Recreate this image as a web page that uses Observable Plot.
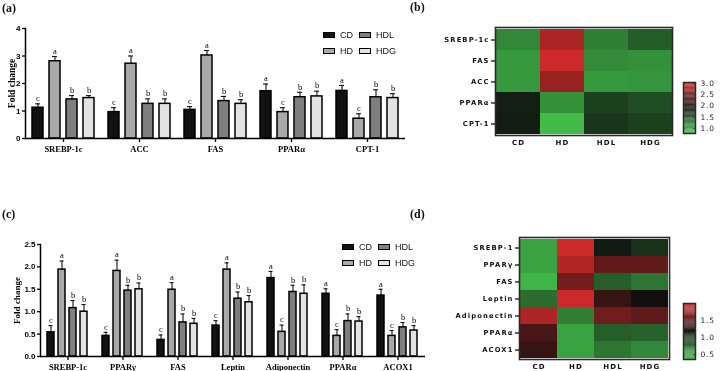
<!DOCTYPE html>
<html><head><meta charset="utf-8">
<script src="https://cdn.jsdelivr.net/npm/d3@7"></script>
<script src="https://cdn.jsdelivr.net/npm/@observablehq/plot@0.6"></script>
<style>
body{margin:0;background:#fff;}
#root{position:relative;width:720px;height:371px;overflow:hidden;background:#fff;font-family:"Liberation Sans",Arial,sans-serif;}
#root svg{position:absolute;will-change:transform;}
#root svg.bars{filter:grayscale(1);}
.tag{position:absolute;font:bold 12px "Liberation Serif",serif;line-height:12px;color:#111;will-change:transform;}
.leg{position:absolute;font:9px "Liberation Sans",Arial,sans-serif;line-height:10px;display:flex;align-items:center;color:#111;white-space:nowrap;will-change:transform;filter:grayscale(1);}
.sw{display:inline-block;width:10px;height:4px;border:1.6px solid #000;margin-right:5px;}
.heat text{letter-spacing:1.1px;}
.ramp text{letter-spacing:0.8px;}
</style></head><body><div id="root"></div>
<script>
// ---------- data ----------
const groups = ["CD", "HD", "HDL", "HDG"];
const groupFill = ["#111111", "#a9a9a9", "#7f7f7f", "#e3e3e3"];

// Panel (a) – bar chart
const genesA = ["SREBP-1c", "ACC", "FAS", "PPARα", "CPT-1"];
const meanA = [[1.12, 2.81, 1.42, 1.47], [0.96, 2.72, 1.26, 1.26], [1.04, 3.02, 1.36, 1.26], [1.72, 0.96, 1.50, 1.53], [1.73, 0.72, 1.50, 1.47]];
const errA  = [[0.14, 0.17, 0.14, 0.09], [0.16, 0.28, 0.18, 0.18], [0.12, 0.18, 0.17, 0.15], [0.26, 0.16, 0.18, 0.19], [0.20, 0.18, 0.27, 0.16]];
const sigA  = [["c","a","b","b"], ["c","a","b","b"], ["c","a","b","b"], ["a","c","b","b"], ["a","c","b","b"]];
const yTicksA = [0, 1, 2, 3, 4];

// Panel (b) – heatmap
const genesB = ["SREBP-1c", "FAS", "ACC", "PPARα", "CPT-1"];
const heatB = [[1.11, 2.80, 1.17, 1.39], [1.00, 3.00, 1.09, 1.06], [1.00, 2.70, 1.00, 1.02], [1.79, 1.05, 1.58, 1.49], [1.81, 0.78, 1.65, 1.58]];
const rampB = [0.77, 1.90, 3.05];
const rampTicksB = [1.0, 1.5, 2.0, 2.5, 3.0];

// Panel (c) – bar chart
const genesC = ["SREBP-1c", "PPARγ", "FAS", "Leptin", "Adiponectin", "PPARα", "ACOX1"];
const meanC = [[0.54, 1.94, 1.08, 1.00], [0.46, 1.91, 1.47, 1.50], [0.37, 1.49, 0.76, 0.73], [0.69, 1.94, 1.29, 1.21], [1.75, 0.55, 1.44, 1.40], [1.40, 0.46, 0.79, 0.78], [1.36, 0.46, 0.65, 0.58]];
const errC  = [[0.15, 0.19, 0.17, 0.16], [0.08, 0.24, 0.12, 0.14], [0.11, 0.16, 0.19, 0.12], [0.11, 0.15, 0.15, 0.15], [0.15, 0.15, 0.15, 0.20], [0.11, 0.14, 0.16, 0.11], [0.14, 0.12, 0.11, 0.11]];
const sigC  = [["c","a","b","b"], ["c","a","b","b"], ["c","a","b","b"], ["c","a","b","b"], ["a","c","b","b"], ["a","c","b","b"], ["a","c","b","b"]];
const yTicksC = [0, 0.5, 1.0, 1.5, 2.0, 2.5];

// Panel (d) – heatmap
const genesD = ["SREBP-1", "PPARγ", "FAS", "Leptin", "Adiponectin", "PPARα", "ACOX1"];
const heatD = [[0.48, 1.96, 1.09, 0.99], [0.48, 1.84, 1.50, 1.50], [0.40, 1.57, 0.79, 0.68], [0.72, 1.95, 1.32, 1.17], [1.82, 0.64, 1.57, 1.49], [1.40, 0.48, 0.79, 0.77], [1.32, 0.48, 0.68, 0.60]];
const rampD = [0.36, 1.15, 1.99];
const rampTicksD = [0.5, 1.0, 1.5];

const heatColors = ["#42bd4a", "#0e0e0e", "#d52b2b"];

// ---------- helpers ----------
const root = document.getElementById("root");
function place(el, left, top) { el.style.left = left + "px"; el.style.top = top + "px"; root.appendChild(el); }
function tidyBars(genes, mean, err, sig) {
  return genes.flatMap((g, i) => groups.map((k, j) => ({gene: g, group: k, value: mean[i][j], err: err[i][j], sig: sig[i][j]})));
}
function tidyHeat(genes, vals) {
  return genes.flatMap((g, i) => groups.map((k, j) => ({gene: g, group: k, value: vals[i][j]})));
}

function barPanel({genes, mean, err, sig, yDomain, yTicks, yFmt, width, height, mt, mb, ml, pi, po, cap, labelDx, labelSize, fxSize}) {
  const data = tidyBars(genes, mean, err, sig);
  const top = d => d.value + d.err;
  return Plot.plot({
    width, height, marginTop: mt, marginBottom: mb, marginLeft: ml, marginRight: 0,
    className: "bars",
    style: {background: "transparent", overflow: "visible"},
    fx: {domain: genes, padding: 0, label: null},
    x: {domain: groups, axis: null, paddingInner: pi, paddingOuter: po},
    y: {domain: yDomain, label: null},
    color: {domain: groups, range: groupFill},
    marks: [
      Plot.ruleX(data, {fx: "gene", x: "group", y1: "value", y2: top, stroke: "#111", strokeWidth: 1.1}),
      Plot.tickY(data, {fx: "gene", x: "group", y: top, insetLeft: cap, insetRight: cap, stroke: "#111", strokeWidth: 1.1}),
      Plot.barY(data, {fx: "gene", x: "group", y: "value", fill: "group", stroke: "#000", strokeWidth: 1.5}),
      Plot.text(data, {fx: "gene", x: "group", y: top, text: "sig", dy: -5.5, fontFamily: "Liberation Serif", fontSize: 8.5, fill: "#000"}),
      Plot.ruleY([0], {stroke: "#000", strokeWidth: 1.5}),
      Plot.frame({anchor: "left", facetAnchor: "left", stroke: "#000", strokeWidth: 1.5}),
      Plot.axisY({ticks: yTicks, tickFormat: yFmt, tickSize: 3, tickPadding: 2, label: null, fontFamily: "Liberation Sans", fontWeight: "bold", fontSize: 8, fill: "#000", strokeWidth: 1.3}),
      Plot.axisFx({anchor: "bottom", tickSize: 4, tickPadding: 3, label: null, fontFamily: "Liberation Serif", fontWeight: "bold", fontSize: fxSize, fill: "#000", strokeWidth: 1.3}),
      Plot.text(["Fold change"], {fx: [genes[0]], frameAnchor: "left", textAnchor: "middle", rotate: -90, dx: labelDx, fontFamily: "Liberation Serif", fontWeight: "bold", fontSize: labelSize, fill: "#000"})
    ]
  });
}

function heatPanel({genes, vals, ramp, width, height, mt, mb, ml, mr}) {
  const data = tidyHeat(genes, vals);
  return Plot.plot({
    width, height, marginTop: mt, marginBottom: mb, marginLeft: ml, marginRight: mr,
    className: "heat",
    style: {background: "transparent", overflow: "visible"},
    x: {domain: groups, padding: 0, label: null},
    y: {domain: genes, padding: 0, label: null},
    color: {type: "linear", domain: ramp, range: heatColors},
    marks: [
      Plot.cell(data, {x: "group", y: "gene", fill: "value"}),
      Plot.frame({stroke: "#2a2a2a", strokeWidth: 1.6}),
      Plot.axisY({tickSize: 4, tickPadding: 2, label: null, fontFamily: "DejaVu Sans", fontWeight: "bold", fontSize: 6.8, fill: "#111", strokeWidth: 1.2}),
      Plot.axisX({tickSize: 0, tickPadding: 5, label: null, fontFamily: "DejaVu Sans", fontWeight: "bold", fontSize: 7, fill: "#111"})
    ]
  });
}

function rampPanel({ramp, ticks, height, mt, mb}) {
  const lo = ramp[0], hi = ramp[ramp.length - 1], n = 60;
  const steps = d3.range(n).map(i => lo + (hi - lo) * i / n);
  const h = (hi - lo) / n;
  return Plot.plot({
    width: 50, height, marginTop: mt, marginBottom: mb, marginLeft: 13, marginRight: 25,
    className: "ramp",
    style: {background: "transparent", overflow: "visible"},
    x: {domain: [0, 1], axis: null},
    y: {domain: [lo, hi], label: null},
    color: {type: "linear", domain: ramp, range: heatColors},
    marks: [
      Plot.rect(steps, {x1: 0, x2: 1, y1: d => d, y2: d => d + h * 1.05, fill: d => d}),
      Plot.tickY(ticks, {y: d => d, insetRight: 10, stroke: "#444", strokeWidth: 1}),
      Plot.tickY(ticks, {y: d => d, insetLeft: 10, stroke: "#444", strokeWidth: 1}),
      Plot.frame({stroke: "#2a2a2a", strokeWidth: 1.5}),
      Plot.axisY({anchor: "right", ticks, tickFormat: ".1f", tickSize: 0, tickPadding: 5, label: null, fontFamily: "DejaVu Sans", fontSize: 7.5, fill: "#222"})
    ]
  });
}

function legend(items, left, top, colStep, rowStep) {
  items.forEach((k, i) => {
    const el = document.createElement("div");
    el.className = "leg";
    const sw = document.createElement("span");
    sw.className = "sw";
    sw.style.background = groupFill[groups.indexOf(k)];
    el.appendChild(sw);
    el.appendChild(document.createTextNode(k));
    place(el, left + Math.floor(i / 2) * colStep, top + (i % 2) * rowStep);
  });
}
function tag(t, left, top) { const el = document.createElement("div"); el.className = "tag"; el.textContent = t; place(el, left, top); }

// ---------- panels ----------
place(barPanel({genes: genesA, mean: meanA, err: errA, sig: sigA, yDomain: [0, 4], yTicks: yTicksA, yFmt: d3.format("d"),
  width: 405, height: 142, mt: 10, mb: 22, ml: 25, pi: 0.35, po: 0.41, cap: 3, labelDx: -14, labelSize: 9.5, fxSize: 8.5}), 0, 18);
legend(["CD", "HD", "HDL", "HDG"], 323, 30, 36, 16);

place(heatPanel({genes: genesB, vals: heatB, ramp: rampB, width: 280, height: 137, mt: 12, mb: 17, ml: 95, mr: 8}), 400, 15);
place(rampPanel({ramp: rampB, ticks: rampTicksB, height: 68, mt: 12, mb: 5}), 670, 70);

place(barPanel({genes: genesC, mean: meanC, err: errC, sig: sigC, yDomain: [0, 2.5], yTicks: yTicksC, yFmt: d3.format(".1f"),
  width: 425, height: 141, mt: 14, mb: 15, ml: 40, pi: 0.36, po: 0.53, cap: 1.5, labelDx: -23, labelSize: 9, fxSize: 8.5}), 0, 230);
legend(["CD", "HD", "HDL", "HDG"], 342, 242, 36, 16);

place(heatPanel({genes: genesD, vals: heatD, ramp: rampD, width: 277, height: 146, mt: 12, mb: 12, ml: 119, mr: 8}), 400, 225);
place(rampPanel({ramp: rampD, ticks: rampTicksD, height: 70, mt: 8, mb: 6}), 670, 295);

tag("(a)", 2, 2); tag("(b)", 410, 1); tag("(c)", 2, 208); tag("(d)", 410, 208);
</script></body></html>
